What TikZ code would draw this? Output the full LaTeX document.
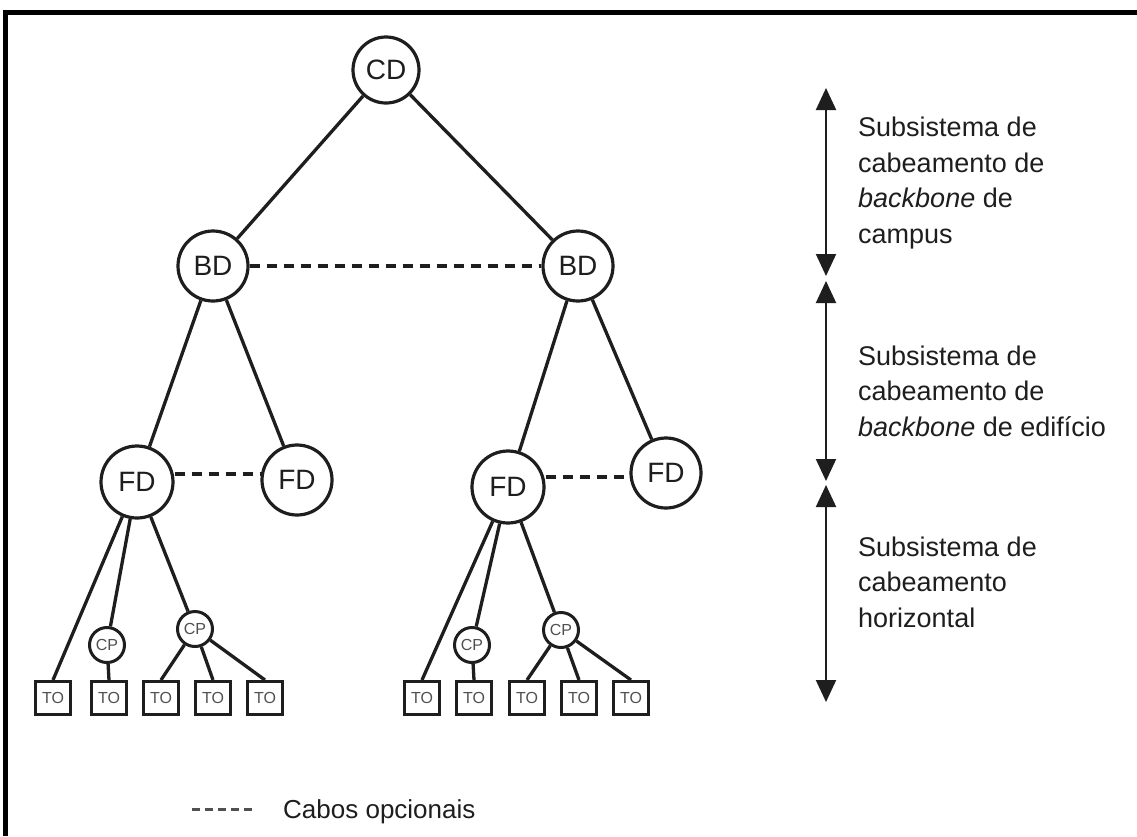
\documentclass[tikz,border=0pt]{standalone}
\usepackage{fontspec}
\setmainfont{Liberation Sans}
\usetikzlibrary{arrows.meta}
\definecolor{ink}{HTML}{1E1E1E}
\definecolor{soft}{HTML}{505050}
\tikzset{
  x=1pt, y=-1pt,
  big/.style={circle, draw=ink, line width=3.2pt, inner sep=0pt, minimum size=70pt,
    font=\fontsize{28}{30}\selectfont, text=ink, fill=white},
  small/.style={circle, draw=ink, line width=3pt, inner sep=0pt, minimum size=35pt,
    font=\fontsize{16}{17}\selectfont, text=soft, fill=white},
  tobox/.style={rectangle, draw=ink, line width=3pt, inner sep=0pt, minimum width=35pt,
    minimum height=33pt, font=\fontsize{16}{17}\selectfont, text=soft, fill=white},
  link/.style={draw=ink, line width=3.3pt},
  opt/.style={draw=ink, line width=3.3pt, dash pattern=on 10pt off 7pt},
  span/.style={draw=ink, line width=2pt, {Triangle[length=22pt,width=20pt]}-{Triangle[length=22pt,width=20pt]}},
  lbl/.style={anchor=base west, align=left, font=\fontsize{27}{35.5}\selectfont, text=ink, inner sep=0pt}
}
\begin{document}
\begin{tikzpicture}
\useasboundingbox (0,0) rectangle (1137,836);
\fill[white] (0,0) rectangle (1137,836);
% frame
\draw[black, line width=5pt, line join=miter] (5.5,836) -- (5.5,12.5) -- (1137,12.5);

% tree nodes
\node[big, minimum size=66pt] (cd) at (386,70) {CD};
\node[big] (bdl) at (213,266) {BD};
\node[big] (bdr) at (578,266) {BD};
\node[big, minimum size=72pt] (fd1) at (137,482) {FD};
\node[big] (fd2) at (297,480) {FD};
\node[big, minimum size=72pt] (fd3) at (508,487) {FD};
\node[big] (fd4) at (666,473) {FD};

\node[small] (cp1) at (107,645) {CP};
\node[small] (cp2) at (195,629) {CP};
\node[small] (cp3) at (472,645) {CP};
\node[small] (cp4) at (561,630) {CP};

\node[tobox] (t1) at (53,698) {TO};
\node[tobox] (t2) at (109,698) {TO};
\node[tobox] (t3) at (161,698) {TO};
\node[tobox] (t4) at (213,698) {TO};
\node[tobox] (t5) at (265,698) {TO};
\node[tobox] (t6) at (422,698) {TO};
\node[tobox] (t7) at (474,698) {TO};
\node[tobox] (t8) at (527,698) {TO};
\node[tobox] (t9) at (579,698) {TO};
\node[tobox] (t10) at (631,698) {TO};

% links
\path[link] (cd) -- (bdl);
\path[link] (cd) -- (bdr);
\path[link] (bdl) -- (fd1);
\path[link] (bdl) -- (fd2);
\path[link] (bdr) -- (fd3);
\path[link] (bdr) -- (fd4);
\path[link] (fd1) -- (t1.north);
\path[link] (fd1) -- (cp1);
\path[link] (fd1) -- (cp2);
\path[link] (cp1) -- (t2.north);
\path[link] (cp2) -- (t3.north);
\path[link] (cp2) -- (t4.north);
\path[link] (cp2) -- (t5.north);
\path[link] (fd3) -- (t6.north);
\path[link] (fd3) -- (cp3);
\path[link] (fd3) -- (cp4);
\path[link] (cp3) -- (t7.north);
\path[link] (cp4) -- (t8.north);
\path[link] (cp4) -- (t9.north);
\path[link] (cp4) -- (t10.north);

% optional cables
\path[opt] (bdl.east) -- (bdr.west);
\path[opt] ([yshift=8pt]fd1.east) -- ([yshift=6pt]fd2.west);
\path[opt] ([yshift=10pt]fd3.east) -- ([yshift=-4pt]fd4.west);

% span arrows
\coordinate (a0) at (826,88);
\coordinate (a1) at (826,276);
\coordinate (a2) at (826,281);
\coordinate (a3) at (826,481);
\coordinate (a4) at (826,485);
\coordinate (a5) at (826,702);
\path[span] (a0) -- (a1);
\path[span] (a2) -- (a3);
\path[span] (a4) -- (a5);

% labels (base anchor = last line baseline)
\node[lbl] (l1) at (858,243) {Subsistema de\\cabeamento de\\\textit{backbone} de\\campus};
\node[lbl] (l2) at (858,436) {Subsistema de\\cabeamento de\\\textit{backbone} de edifício};
\node[lbl] (l3) at (858,627) {Subsistema de\\cabeamento\\horizontal};

% legend
\coordinate (g0) at (192,809);
\coordinate (g1) at (256,809);
\path[draw=soft, line width=3pt, dash pattern=on 8pt off 5pt] (g0) -- (g1);
\node[anchor=base west, inner sep=0pt, font=\fontsize{26}{30}\selectfont, text=ink] (leg) at (283,818) {Cabos opcionais};
\end{tikzpicture}
\end{document}
